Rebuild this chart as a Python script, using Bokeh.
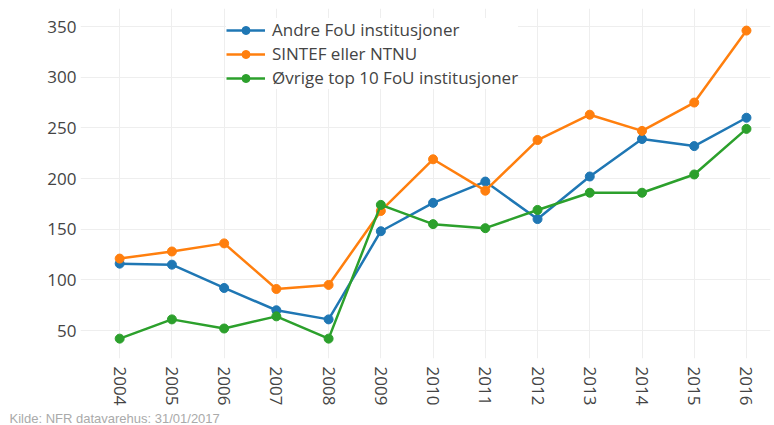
import math
from bokeh.plotting import figure
from bokeh.models import Range1d, FixedTicker, Legend, LegendItem, Title
from bokeh.embed import file_html
from bokeh.resources import INLINE

years = [2004, 2005, 2006, 2007, 2008, 2009, 2010, 2011, 2012, 2013, 2014, 2015, 2016]
andre = [116, 115, 92, 70, 61, 148, 176, 197, 160, 202, 239, 232, 260]
sintef = [121, 128, 136, 91, 95, 168, 219, 188, 238, 263, 247, 275, 346]
ovrige = [42, 61, 52, 64, 42, 174, 155, 151, 169, 186, 186, 204, 249]
series_names = ["Andre FoU institusjoner", "SINTEF eller NTNU", "Øvrige top 10 FoU institusjoner"]
colors = ["#1f77b4", "#ff7f0e", "#2ca02c"]
y_ticks = [50, 100, 150, 200, 250, 300, 350]
source_text = "Kilde: NFR datavarehus: 31/01/2017"

FONT = "Open Sans"
p = figure(width=774, height=425, output_backend="svg", toolbar_location=None,
           x_range=Range1d(2003.25, 2016.46), y_range=Range1d(22.4, 367.8),
           min_border_left=80, min_border_right=4, min_border_top=8, min_border_bottom=60)
p.outline_line_color = None
p.background_fill_color = "white"
p.border_fill_color = "white"

for ax in (p.xaxis[0], p.yaxis[0]):
    ax.axis_line_color = None
    ax.major_tick_line_color = None
    ax.minor_tick_line_color = None
    ax.major_tick_out = 0
    ax.major_tick_in = 0
    ax.minor_tick_out = 0
    ax.minor_tick_in = 0
    ax.major_label_text_font = FONT
    ax.major_label_text_font_size = "17px"
    ax.major_label_text_color = "#444444"

p.xaxis[0].ticker = FixedTicker(ticks=years)
p.xaxis[0].major_label_orientation = -math.pi / 2
p.xaxis[0].major_label_standoff = 8
p.yaxis[0].ticker = FixedTicker(ticks=y_ticks)
p.yaxis[0].major_label_standoff = 4

p.xgrid.grid_line_color = "#eeeeee"
p.ygrid.grid_line_color = "#eeeeee"
p.xgrid.grid_line_width = 1
p.ygrid.grid_line_width = 1

items = []
for name, vals, c in zip(series_names, [andre, sintef, ovrige], colors):
    r1 = p.line(years, vals, line_color=c, line_width=2.5)
    r2 = p.scatter(years, vals, size=9, fill_color=c, line_color=c)
    items.append(LegendItem(label=name, renderers=[r1, r2]))

legend = Legend(items=items, location=(146, 269))
legend.label_text_font = FONT
legend.label_text_font_size = "17px"
legend.label_text_color = "#444444"
legend.glyph_width = 39
legend.glyph_height = 20
legend.label_height = 20
legend.spacing = 1
legend.padding = 8
legend.margin = 0
legend.label_standoff = 7
legend.border_line_color = None
legend.background_fill_color = "white"
legend.background_fill_alpha = 1.0
p.add_layout(legend, "center")

src = Title(text=source_text, align="left", offset=-71, standoff=0,
            text_font="Liberation Sans", text_font_size="13px", text_color="#aaaaaa",
            text_font_style="normal", text_line_height=0.7)
p.add_layout(src, "below")

open("out.html", "w").write(file_html(p, INLINE))
